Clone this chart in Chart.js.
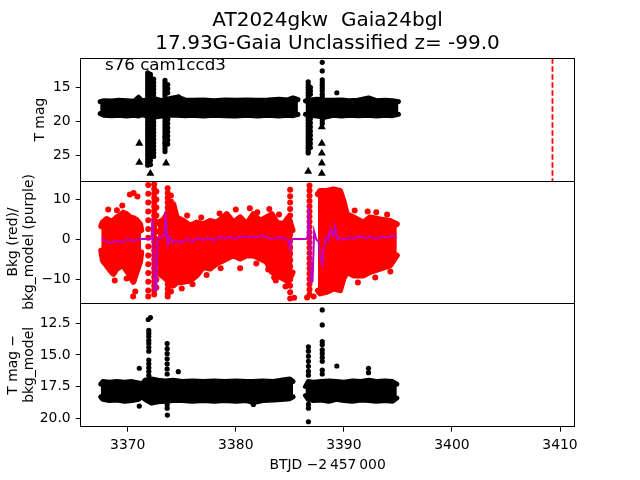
<!DOCTYPE html>
<html><head><meta charset="utf-8">
<script src="https://cdn.jsdelivr.net/npm/chart.js@4/dist/chart.umd.min.js"></script>
<style>
html,body{margin:0;padding:0;background:#fff;}
#wrap{position:relative;width:640px;height:480px;}
canvas{position:absolute;left:0;top:0;}
</style></head><body>
<div id="wrap">
<canvas id="c1" width="640" height="480"></canvas>
<canvas id="c2" width="640" height="480"></canvas>
<canvas id="c3" width="640" height="480"></canvas>
</div>
<script>
// ---------- text ----------
const titleLines = ['AT2024gkw  Gaia24bgl', '17.93G-Gaia Unclassified z= -99.0'];
const panelLabel = 's76 cam1ccd3';
const xTitle = 'BTJD \u22122\u2009457\u2009000';
const topYTitle = 'T mag';
const midYTitle = ['Bkg (red)/', 'bkg_model (purple)'];
const botYTitle = ['T mag \u2212', 'bkg_model'];

// ---------- ticks / ranges ----------
const xTicks = [3370, 3380, 3390, 3400, 3410];
const topTicks = [15, 20, 25];
const bkgTicks = [-10, 0, 10];
const diffTicks = [12.5, 15, 17.5, 20];
const xRange = [3365.65, 3411.34];
const topRange = [10.76, 28.7];
const bkgRange = [-15.9, 14.6];
const diffRange = [10.9, 20.66];
const flagTime = 3409.3;

// ---------- top panel: T mag ----------
const magBandA_t  = [3367.45,3367.8,3368.5,3369.2,3369.9,3370.6,3371.0,3371.3,3371.8,3372.6,3373.2,3373.9,3374.6,3375.3,3376.0,3377.0,3378.0,3379.0,3380.0,3381.0,3382.0,3383.0,3384.0,3384.8,3385.3,3385.75];
const magBandA_hi = [17.1,16.95,17.0,16.9,16.95,17.05,16.45,16.95,16.85,16.75,16.95,16.65,16.45,16.85,16.9,16.85,16.95,16.85,16.9,16.85,16.9,16.85,16.75,16.85,16.55,16.8];
const magBandA_lo = [18.85,19.1,19.15,19.1,19.2,19.1,19.2,19.0,19.2,19.3,19.2,19.1,19.1,19.15,19.1,19.2,19.1,19.15,19.2,19.1,19.2,19.1,19.2,19.1,19.15,18.95];
const magBandB_t  = [3386.45,3386.9,3387.5,3388.2,3389.0,3389.8,3390.5,3391.3,3392.3,3393.0,3393.8,3394.5,3395.05];
const magBandB_hi = [17.0,16.85,16.75,16.85,16.9,16.85,16.95,16.9,16.55,16.95,16.9,16.95,17.1];
const magBandB_lo = [18.95,19.1,19.2,19.4,19.1,19.2,19.1,19.15,19.1,19.2,19.1,19.15,18.95];
const magColTimes = [3371.85, 3372.1, 3372.4, 3373.45, 3373.7, 3386.7, 3386.9, 3388.0];
const magColValues = [
  [12.9,13.2,13.6,14.0,14.4,14.8,15.2,15.6,16.0,16.4,19.6,20.0,20.4,20.8,21.2,21.6,22.0,22.4,22.8,23.2,23.6,24.0,24.4,24.8,25.2,25.6,26.0,26.4],
  [13.1,13.5,13.9,14.5,15.1,15.7,16.2,19.8,20.3,20.9,21.5,22.1,22.7,23.3,23.9,24.5,25.1,25.7,26.3],
  [13.8,14.3,14.8,15.3,15.8,16.3,19.6,20.1,20.6,21.1,21.6,22.1,22.6,23.1,23.6,24.1,24.6,25.1],
  [14.0,14.4,14.8,15.2,15.6,16.0,16.4,19.6,20.0,20.4,20.8,21.2,21.6,22.0,22.4,22.8,23.2,23.6,24.0,24.4],
  [14.6,15.2,15.8,19.7,20.3,20.9,21.5,22.1,22.7,23.3],
  [14.2,14.6,15.0,15.4,15.8,16.2,16.6,19.5,19.9,20.3,20.7,21.1,21.5,21.9,22.3,22.7,23.1,23.5,23.9,24.3,24.6],
  [15.0,15.5,16.0,19.6,20.2,20.8,21.4,22.0,22.6,23.2,23.8],
  [11.35,12.6,13.9,14.3,14.7,15.1,15.5,16.0,16.4,19.5,19.9,20.3]
];
const magExtra_t = [3389.35, 3374.7];
const magExtra_m = [15.8, 16.4];
const limit_t = [3371.07,3371.07,3372.0,3372.2,3372.0,3372.1,3373.55,3373.55,3373.55,3386.7,3387.96,3387.96,3387.96,3387.96,3387.96];
const limit_m = [23.2,26.0,23.4,24.9,26.1,27.6,22.0,22.9,26.1,27.3,20.8,23.2,24.65,26.1,27.6];

// ---------- middle panel: background ----------
const model_t = [3367.6,3368.0,3368.5,3369.0,3369.5,3370.0,3370.5,3371.0,3371.2,3371.8,3372.2,3372.3,3372.4,3372.5,3372.65,3372.75,3372.85,3373.0,3373.4,3373.5,3373.6,3373.7,3373.9,3374.2,3374.6,3375.0,3375.5,3376.0,3376.5,3377.0,3377.5,3378.0,3378.5,3379.0,3379.5,3380.0,3380.5,3381.0,3381.5,3382.0,3382.5,3383.0,3383.5,3384.0,3384.5,3384.9,3385.0,3385.1,3385.3,3386.5,3386.65,3386.75,3386.85,3386.95,3387.1,3387.25,3387.45,3387.65,3387.85,3388.0,3388.15,3388.35,3388.55,3388.75,3389.0,3389.2,3389.35,3389.6,3390.0,3390.5,3391.0,3391.5,3392.0,3392.5,3393.0,3393.5,3394.0,3394.5,3394.9];
const model_v = [0.2,-0.5,-0.9,-0.3,-0.7,0.1,-0.4,0.0,0.1,0.1,0.2,5.3,-3.0,-12.9,-12.5,-1.0,0.5,0.3,1.0,7.0,2.0,-1.4,0.5,-0.8,-0.3,-0.9,0.1,-0.5,0.3,-0.2,0.4,-0.3,0.6,0.3,0.6,0.2,0.9,0.4,0.7,0.5,1.0,0.3,0.2,0.6,0.1,-0.3,-2.2,-0.4,0.1,0.1,0.5,8.2,0.0,-10.9,-10.5,2.0,0.0,-0.5,-5.0,-6.3,-2.0,0.5,-0.3,2.5,1.0,3.2,0.0,0.4,-0.1,0.5,0.2,0.8,0.3,0.6,0.2,0.7,0.5,0.9,0.4];
const bkgBandL_t  = [3367.55,3367.7,3368.05,3368.4,3368.67,3368.98,3369.28,3369.59,3369.9,3370.21,3370.52,3370.83,3371.14,3371.25];
const bkgBandL_hi = [3.3,4.3,5.1,4.5,4.7,5.5,5.9,6.7,6.3,5.5,5.3,4.8,3.8,2.3];
const bkgBandL_lo = [-2.8,-5.3,-6.5,-7.8,-8.6,-7.3,-6.8,-6.5,-7.8,-9.0,-10.6,-8.1,-5.6,-3.3];
const bkgBandM_t  = [3372.8,3373.3,3374.22,3374.53,3375.15,3375.77,3376.38,3377.0,3377.62,3378.23,3378.85,3379.16,3379.78,3380.4,3381.01,3381.63,3382.25,3382.86,3383.33,3383.79,3384.41,3384.87,3385.25];
const bkgBandM_hi = [4.3,4.8,8.8,5.5,4.6,3.4,4.2,3.8,4.6,4.2,5.5,6.3,4.2,5.5,3.8,6.3,4.6,5.5,6.3,4.2,3.8,5.5,2.3];
const bkgBandM_lo = [-8.3,-9.3,-11.5,-10.8,-10.6,-10.3,-9.0,-6.9,-7.3,-6.0,-5.2,-4.8,-4.0,-4.8,-4.0,-4.0,-4.8,-5.6,-8.1,-9.0,-9.8,-10.6,-8.3];
const bkgBandR_t  = [3387.6,3387.8,3388.42,3389.04,3389.65,3389.96,3390.27,3390.89,3391.81,3392.43,3393.36,3394.28,3394.9];
const bkgBandR_hi = [11.3,12.1,12.1,12.5,12.1,9.6,6.3,5.5,4.2,5.5,5.0,4.6,3.8];
const bkgBandR_lo = [-12.8,-13.5,-13.1,-12.3,-12.7,-9.8,-8.1,-9.0,-9.0,-8.1,-7.3,-6.5,-4.0];
const bkgColTimes = [3371.9, 3372.45, 3372.65, 3373.7, 3374.0, 3385.03, 3386.82];
const bkgColValues = [
  [13.6,11.4,9.2,7.0,4.8,2.6,0.4,-1.8,-4.0,-6.2,-8.4,-10.6,-12.8,-14.3],
  [13.7,12.6,11.5,10.4,9.3,8.2,7.1,6.0,4.9,3.8,2.7,1.6,0.5,-0.6,-1.7,-2.8,-3.9,-5.0,-6.1,-7.2,-8.3,-9.4,-10.5,-11.6,-12.7,-13.8],
  [12.0,10.0,8.0,6.0,4.0,2.0,0.0,-2.0,-4.0,-6.0,-8.0,-10.0,-12.0],
  [12.8,11.6,10.4,9.2,8.0,6.8,5.6,4.4,3.2,2.0,0.8,-0.4,-1.6,-2.8,-4.0,-5.2,-6.4,-7.6,-8.8,-10.0,-11.2,-12.4,-13.6,-14.3],
  [11.0,9.5,8.0,6.5,5.0,3.5,2.0,0.5,-1.0,-2.5,-4.0,-5.5,-7.0,-8.5,-10.0,-11.5,-13.0],
  [12.4,10.8,9.2,7.6,6.0,4.4,2.8,1.2,-0.4,-2.0,-3.6,-5.2,-6.8,-8.4,-10.0,-11.6,-13.2,-14.8],
  [13.5,12.2,10.9,9.6,8.3,7.0,5.7,4.4,3.1,1.8,0.5,-0.8,-2.1,-3.4,-4.7,-6.0,-7.3,-8.6,-9.9,-11.2,-12.5,-13.8]
];
const bkgExtra_t = [3370.2,3370.55,3370.9,3370.5,3370.7,3380.4,3383.7,3383.55,3386.6,3387.2,3385.4,
  3368.2,3369.0,3369.5,3368.8,3369.9,3375.5,3376.8,3378.5,3380.0,3381.3,3382.0,3383.1,3384.0,
  3375.0,3376.0,3377.3,3378.6,3381.9,3383.0,3384.6,3391.0,3392.2,3393.0,3394.0,3391.3,3392.9,3394.3];
const bkgExtra_v = [11.2,11.6,10.7,-14.3,-13.0,-7.2,-10.3,-9.5,-14.5,-14.3,-14.6,
  7.5,7.3,8.5,-10.3,-9.8,6.0,5.5,6.5,7.5,7.8,6.8,7.6,6.2,
  -12.3,-11.2,-8.9,-7.2,-6.0,-7.5,-11.8,7.2,7.0,6.8,6.2,-10.8,-9.5,-8.0];

// ---------- bottom panel: T mag - bkg_model ----------
const diffBandL_t  = [3367.5,3367.7,3368.3,3369.0,3369.7,3370.4,3371.0,3371.3,3371.6,3372.2,3372.8,3373.5,3374.2,3375.0,3376.0,3377.0,3378.0,3379.0,3380.0,3381.0,3381.6,3382.5,3383.5,3384.5,3385.0,3385.3];
const diffBandL_hi = [17.3,17.1,17.15,17.1,17.15,17.1,17.2,17.3,17.0,16.9,17.0,17.05,17.0,17.1,17.05,17.1,17.05,17.1,17.05,17.1,17.1,17.05,17.1,16.95,16.9,17.1];
const diffBandL_lo = [18.3,18.5,18.6,18.55,18.65,18.6,18.5,18.3,18.5,18.8,18.7,18.65,18.6,18.6,18.65,18.6,18.65,18.6,18.65,18.6,18.75,18.6,18.55,18.5,18.45,18.3];
const diffBandR_t  = [3386.45,3386.7,3387.2,3387.9,3388.6,3389.3,3390.0,3390.8,3391.6,3392.3,3393.0,3393.8,3394.5,3394.9];
const diffBandR_hi = [17.5,17.1,17.15,17.1,17.05,17.1,17.15,17.05,17.1,17.0,17.1,17.05,17.1,17.3];
const diffBandR_lo = [18.2,18.5,18.6,18.55,18.65,18.5,18.6,18.65,18.55,18.6,18.65,18.6,18.65,18.4];
const diffColTimes = [3371.95, 3373.65, 3386.72, 3388.0];
const diffColValues = [
  [13.05,13.3,13.55,13.85,14.1,14.4,14.7,15.4,15.7,16.0,16.3,16.6],
  [14.1,14.5,14.9,15.3,15.7,16.1,16.5,18.9,19.2],
  [14.35,14.7,15.1,15.5,15.9,16.3,16.6,18.9,19.2],
  [11.45,12.63,13.95,14.2,14.6,14.9,15.2,15.5,16.2,16.5]
];
const diffExtra_t = [3371.9,3372.1,3371.07,3371.07,3373.67,3374.68,3381.63,3386.72,3389.35,3392.28,3392.28];
const diffExtra_m = [12.2,12.05,16.05,19.03,19.74,16.32,18.9,20.27,15.87,16.05,16.4];

// ---------- helpers ----------
const AXIS_W = 80.7, RIGHT_PAD = 65.5;
Chart.defaults.font.family = '"DejaVu Sans", sans-serif';
Chart.defaults.font.size = 13.9;
Chart.defaults.color = '#000';

function pts(ts, vs){ const n=Math.min(ts.length,vs.length); const o=[]; for(let i=0;i<n;i++) o.push({x:ts[i],y:vs[i]}); return o; }
function colPts(times, cols){ const o=[]; times.forEach((t,i)=>cols[i].forEach(v=>o.push({x:t,y:v}))); return o; }
function band(ts, a, b, color, w){
  const base = {showLine:true, borderColor:color, backgroundColor:color, borderWidth:w, pointRadius:0, tension:0, borderJoinStyle:'round', borderCapStyle:'round'};
  return [Object.assign({data:pts(ts,a), fill:'+1'}, base), Object.assign({data:pts(ts,b), fill:false}, base)];
}
function scat(data, color, r, style){
  return {data, showLine:false, fill:false, pointRadius:r, pointBackgroundColor:color, pointBorderColor:color, pointBorderWidth:0, pointStyle:style||'circle'};
}
function grid(){ return {display:true, drawOnChartArea:false, drawTicks:true, tickLength:5, tickColor:'#000', tickWidth:1}; }
function yAxis(range, ticks, reverse, title, tpad, cb){
  return {type:'linear', position:'left', min:range[0], max:range[1], reverse,
    afterFit(s){ s.width = AXIS_W; },
    afterBuildTicks(s){ s.ticks = ticks.map(v=>({value:v})); },
    ticks:{padding:5, color:'#000', font:{size:13.9}, callback: cb},
    grid:grid(), border:{display:true, color:'#000', width:1},
    title:{display:true, text:title, color:'#000', font:{size:13.9}, padding:{top:tpad, bottom:0}}};
}
function xHidden(){ return {type:'linear', min:xRange[0], max:xRange[1], display:false}; }
const minus = v => (v < 0 ? '\u2212' + Math.abs(v) : String(v));

const framePlugin = {
  id:'frame',
  afterDraw(chart, args, opts){
    const {ctx, chartArea:a} = chart;
    ctx.save();
    ctx.strokeStyle = '#000'; ctx.lineWidth = 1;
    const l = Math.floor(a.left)+0.5, t = Math.floor(a.top)+0.5, r = Math.floor(a.right)+0.5, b = Math.floor(a.bottom)+0.5;
    ctx.strokeRect(l, t, r-l, b-t);
    if (opts && opts.label){
      ctx.fillStyle = '#000'; ctx.font = '16.67px "DejaVu Sans"'; ctx.textBaseline = 'alphabetic'; ctx.textAlign = 'left';
      ctx.fillText(opts.label, opts.lx, opts.ly);
    }
    ctx.restore();
  }
};
const common = {responsive:false, animation:false, events:[]};

// ---------- chart 1 ----------
new Chart(document.getElementById('c1'), {
  type:'line',
  data:{datasets:[
    {data:[{x:flagTime,y:topRange[0]},{x:flagTime,y:topRange[1]}], showLine:true, borderColor:'#ff0000', borderWidth:1.8, borderDash:[5.5,2.5], pointRadius:0, fill:false},
    scat(pts(limit_t, limit_m), '#000', 4.6, 'triangle'),
    scat(colPts(magColTimes, magColValues), '#000', 2.6),
    scat(pts(magExtra_t, magExtra_m), '#000', 2.6),
    ...band(magBandA_t, magBandA_hi, magBandA_lo, '#000', 5),
    ...band(magBandB_t, magBandB_hi, magBandB_lo, '#000', 5)
  ]},
  options:Object.assign({}, common, {
    layout:{padding:{top:0, left:0, right:RIGHT_PAD, bottom:480-181}},
    plugins:{legend:{display:false}, tooltip:{enabled:false},
      title:{display:true, text:titleLines, color:'#000', font:{size:20, weight:'normal', lineHeight:1.15}, padding:{top:9.5, bottom:2.8}, fullSize:false},
      frame:{label:panelLabel, lx:105, ly:70}},
    scales:{x:xHidden(), y:yAxis(topRange, topTicks, true, topYTitle, 31.7, v=>String(v))}
  }),
  plugins:[framePlugin]
});

// ---------- chart 2 ----------
new Chart(document.getElementById('c2'), {
  type:'line',
  data:{datasets:[
    {data:pts(model_t, model_v), showLine:true, borderColor:'#bf00bf', borderWidth:2, pointRadius:0, fill:false, tension:0},
    scat(colPts(bkgColTimes, bkgColValues), '#ff0000', 3),
    scat(pts(bkgExtra_t, bkgExtra_v), '#ff0000', 3),
    ...band(bkgBandL_t, bkgBandL_hi, bkgBandL_lo, '#ff0000', 6),
    ...band(bkgBandM_t, bkgBandM_hi, bkgBandM_lo, '#ff0000', 6),
    ...band(bkgBandR_t, bkgBandR_hi, bkgBandR_lo, '#ff0000', 6)
  ]},
  options:Object.assign({}, common, {
    layout:{padding:{top:181, left:0, right:RIGHT_PAD, bottom:480-303}},
    plugins:{legend:{display:false}, tooltip:{enabled:false}, frame:{}},
    scales:{x:xHidden(), y:yAxis(bkgRange, bkgTicks, false, midYTitle, 4.7, minus)}
  }),
  plugins:[framePlugin]
});

// ---------- chart 3 ----------
new Chart(document.getElementById('c3'), {
  type:'line',
  data:{datasets:[
    scat(colPts(diffColTimes, diffColValues), '#000', 2.6),
    scat(pts(diffExtra_t, diffExtra_m), '#000', 2.6),
    ...band(diffBandL_t, diffBandL_hi, diffBandL_lo, '#000', 5),
    ...band(diffBandR_t, diffBandR_hi, diffBandR_lo, '#000', 5)
  ]},
  options:Object.assign({}, common, {
    layout:{padding:{top:303, left:0, right:RIGHT_PAD, bottom:0}},
    plugins:{legend:{display:false}, tooltip:{enabled:false}, frame:{}},
    scales:{
      x:{type:'linear', position:'bottom', min:xRange[0], max:xRange[1],
        afterFit(s){ s.height = 480 - 426.7; },
        afterBuildTicks(s){ s.ticks = xTicks.map(v=>({value:v})); },
        ticks:{padding:5, color:'#000', font:{size:13.9}, maxRotation:0, autoSkip:false, callback:v=>String(v)},
        grid:grid(), border:{display:true, color:'#000', width:1},
        title:{display:true, text:xTitle, color:'#000', font:{size:13.9}, padding:{top:0, bottom:6.7}}},
      y:yAxis(diffRange, diffTicks, true, botYTitle, 4.7, v=>v.toFixed(1))
    }
  }),
  plugins:[framePlugin]
});
</script>
</body></html>
